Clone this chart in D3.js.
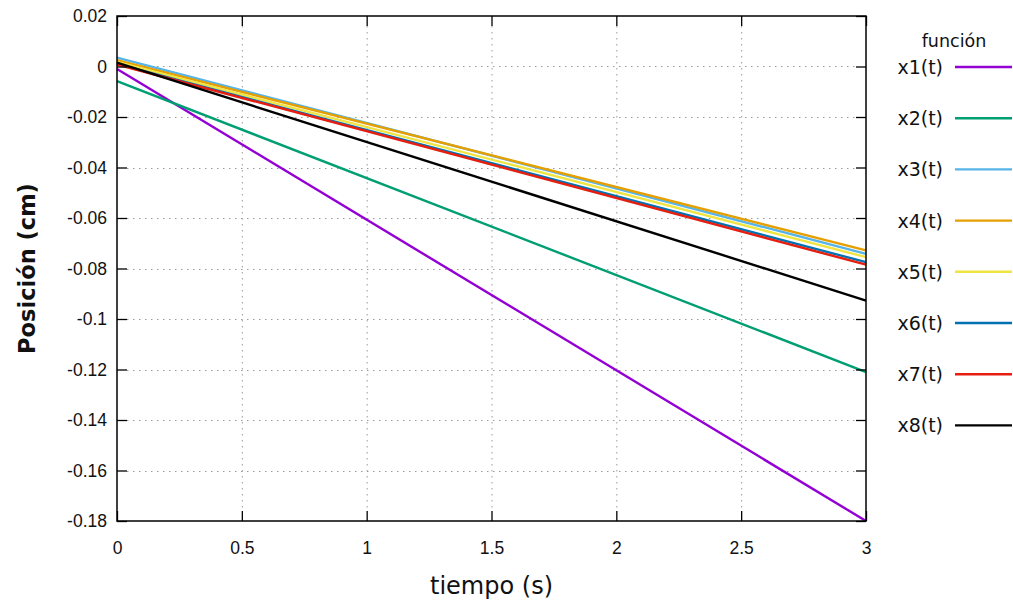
<!DOCTYPE html>
<html>
<head>
<meta charset="utf-8">
<script src="https://cdn.jsdelivr.net/npm/d3@7"></script>
<style>
  html, body { margin: 0; padding: 0; background: #fff; }
  svg { display: block; font-family: "DejaVu Sans", Verdana, sans-serif; }
</style>
</head>
<body>
<svg id="chart" width="1013" height="606"></svg>
<script>
// Position x_i(t) of each function at the start and end of the time interval
const seriesNames = ["x1(t)", "x2(t)", "x3(t)", "x4(t)", "x5(t)", "x6(t)", "x7(t)", "x8(t)"];
const timeSpan = [0, 3];
const startValues = [-0.0010, -0.0058, 0.0035, 0.0025, 0.0018, 0.0010, 0.0008, 0.0015];
const endValues = [-0.1800, -0.1210, -0.0742, -0.0728, -0.0755, -0.0775, -0.0785, -0.0927];
const seriesColors = ["#9400d3", "#009e73", "#56b4e9", "#e69f00", "#f0e442", "#0072b2", "#e51e10", "#000000"];

const xTicks = [0, 0.5, 1, 1.5, 2, 2.5, 3];
const yTicks = [0.02, 0, -0.02, -0.04, -0.06, -0.08, -0.1, -0.12, -0.14, -0.16, -0.18];

const svg = d3.select("#chart");
const plot = { left: 117, right: 866, top: 16, bottom: 521 };

const x = d3.scaleLinear().domain([0, 3]).range([plot.left, plot.right]);
const y = d3.scaleLinear().domain([-0.18, 0.02]).range([plot.bottom, plot.top]);

const fmt = v => {
  if (Math.abs(v) < 1e-12) return "0";
  return String(+v.toFixed(2));
};

// dotted grid
const grid = svg.append("g").attr("stroke", "#9a9a9a").attr("stroke-width", 1)
  .attr("stroke-dasharray", "1.5,4.5");
grid.selectAll("line.gx").data(xTicks.slice(1, -1)).join("line")
  .attr("x1", d => x(d) + 0.5).attr("x2", d => x(d) + 0.5)
  .attr("y1", plot.top + 10).attr("y2", plot.bottom - 10);
grid.selectAll("line.gy").data(yTicks.slice(1, -1)).join("line")
  .attr("y1", d => Math.round(y(d)) + 0.5).attr("y2", d => Math.round(y(d)) + 0.5)
  .attr("x1", plot.left + 10).attr("x2", plot.right - 10);

// data lines
const line = d3.line().x(d => x(d[0])).y(d => y(d[1]));
const series = seriesNames.map((name, i) => ({
  name, color: seriesColors[i],
  pts: [[timeSpan[0], startValues[i]], [timeSpan[1], endValues[i]]]
}));
svg.append("g").selectAll("path").data(series).join("path")
  .attr("d", d => line(d.pts))
  .attr("fill", "none")
  .attr("stroke", d => d.color)
  .attr("stroke-width", 2.4);

// axes: left and bottom with labels, mirrored ticks on top and right
const tickLen = 10;
const axisLeft = d3.axisLeft(y).tickValues(yTicks).tickFormat(fmt).tickSizeInner(-tickLen).tickSizeOuter(0).tickPadding(10);
const axisBottom = d3.axisBottom(x).tickValues(xTicks).tickFormat(fmt).tickSizeInner(-tickLen).tickSizeOuter(0).tickPadding(21);
const axisRight = d3.axisRight(y).tickValues(yTicks).tickFormat("").tickSizeInner(-tickLen).tickSizeOuter(0);
const axisTop = d3.axisTop(x).tickValues(xTicks).tickFormat("").tickSizeInner(-tickLen).tickSizeOuter(0);

function style(g) {
  g.select(".domain").remove();
  g.selectAll(".tick line").attr("stroke", "#000").attr("stroke-width", 1.3);
  g.selectAll(".tick text").attr("fill", "#111").style("font-size", "17.5px");
}
svg.append("g").attr("transform", `translate(${plot.left},0)`).call(axisLeft).call(style);
svg.append("g").attr("transform", `translate(0,${plot.bottom})`).call(axisBottom).call(style);
svg.append("g").attr("transform", `translate(${plot.right},0)`).call(axisRight).call(style);
svg.append("g").attr("transform", `translate(0,${plot.top})`).call(axisTop).call(style);

// frame
svg.append("rect")
  .attr("x", plot.left).attr("y", plot.top)
  .attr("width", plot.right - plot.left).attr("height", plot.bottom - plot.top)
  .attr("fill", "none").attr("stroke", "#000").attr("stroke-width", 1.5);

// axis titles
svg.append("text")
  .attr("x", (plot.left + plot.right) / 2).attr("y", 594)
  .attr("text-anchor", "middle").style("font-size", "24px").attr("fill", "#111")
  .text("tiempo (s)");
svg.append("text")
  .attr("transform", `translate(35,${(plot.top + plot.bottom) / 2}) rotate(-90)`)
  .attr("text-anchor", "middle").style("font-size", "22.5px").style("font-weight", "bold")
  .attr("fill", "#111")
  .text("Posición (cm)");

// legend
const legend = svg.append("g");
legend.append("text")
  .attr("x", 954).attr("y", 47).attr("text-anchor", "middle")
  .style("font-size", "17.5px").attr("fill", "#111").text("función");
const rowY = i => 67 + i * 51.2;
const rows = legend.selectAll("g.row").data(series).join("g").attr("class", "row")
  .attr("transform", (d, i) => `translate(0,${rowY(i)})`);
rows.append("text")
  .attr("x", 943).attr("y", 7).attr("text-anchor", "end")
  .style("font-size", "19px").attr("fill", "#111").text(d => d.name);
rows.append("line")
  .attr("x1", 955).attr("x2", 1012).attr("y1", 0).attr("y2", 0)
  .attr("stroke", d => d.color).attr("stroke-width", 2.4);
</script>
</body>
</html>
